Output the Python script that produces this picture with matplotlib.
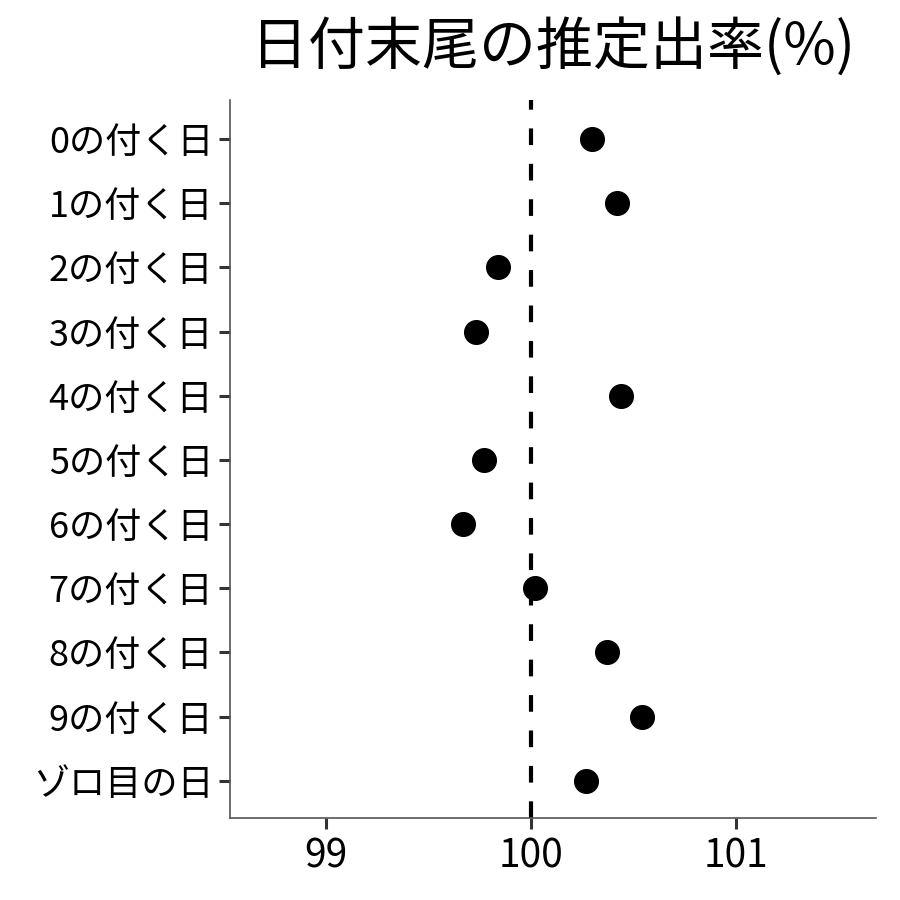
import matplotlib
matplotlib.use("Agg")
import matplotlib.pyplot as plt

plt.rcParams['font.family'] = ['Noto Sans CJK JP', 'DejaVu Sans']

# Data
labels = ['0の付く日', '1の付く日', '2の付く日', '3の付く日', '4の付く日',
          '5の付く日', '6の付く日', '7の付く日', '8の付く日', '9の付く日', 'ゾロ目の日']
rates = [100.30, 100.42, 99.84, 99.73, 100.44, 99.77, 99.67, 100.02, 100.37, 100.54, 100.27]

fig = plt.figure(figsize=(9, 9), dpi=100)
ax = fig.add_axes([0.2556, 0.0911, 0.7177, 0.7978])

ypos = list(range(len(labels)))
ax.axvline(100, color='black', linewidth=3, linestyle=(0, (4, 4.5)), zorder=1)
ax.scatter(rates, ypos, s=290, color='black', zorder=3)

ax.set_yticks(ypos)
ax.set_yticklabels(labels)
ax.set_xticks([99, 100, 101])
ax.set_xticklabels(['99', '100', '101'])
ax.set_xlim(98.532, 101.683)
ax.set_ylim(10.58, -0.61)

for side in ['top', 'right']:
    ax.spines[side].set_visible(False)
for side in ['left', 'bottom']:
    ax.spines[side].set_color('#555555')
    ax.spines[side].set_linewidth(1.2)

ax.tick_params(axis='both', length=8, width=2.2, color='#333333', labelcolor='black')
ax.tick_params(axis='y', pad=4, labelsize=26)
ax.tick_params(axis='x', pad=5, labelsize=28)

ax.set_title('日付末尾の推定出率(%)', fontsize=41, pad=26)

fig.savefig('out.png', dpi=100)
